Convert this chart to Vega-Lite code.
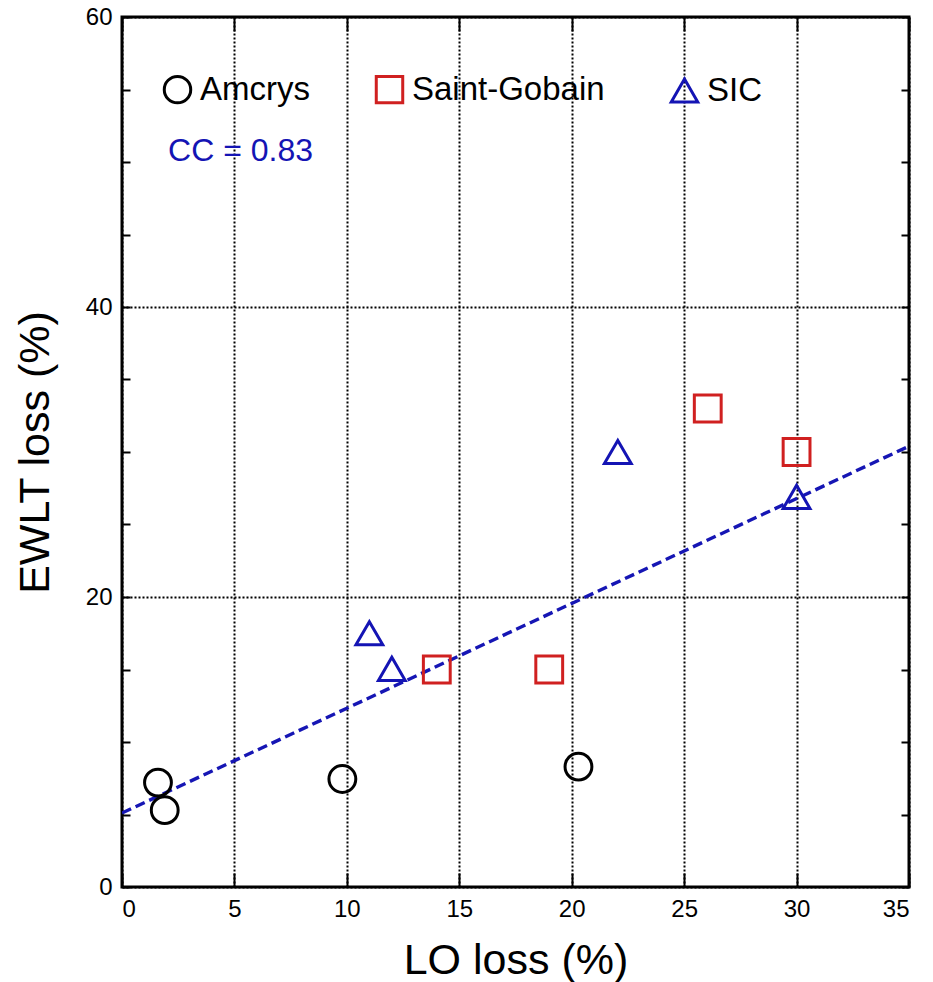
{
  "$schema": "https://vega.github.io/schema/vega-lite/v6.json",
  "width": 787,
  "height": 870,
  "autosize": {"type": "none"},
  "padding": {"left": 122, "top": 17, "right": 24, "bottom": 95},
  "background": "white",
  "config": {
    "font": "Liberation Sans",
    "view": {"stroke": "black", "strokeWidth": 3},
    "axis": {
      "domain": false,
      "labelFont": "Liberation Sans",
      "labelFontSize": 24,
      "labelColor": "black",
      "tickColor": "black",
      "tickWidth": 2,
      "titleFont": "Liberation Sans",
      "titleFontWeight": "normal",
      "titleColor": "black",
      "gridColor": "black",
      "gridDash": [2, 2],
      "gridWidth": 2,
      "gridOpacity": 1
    }
  },
  "datasets": {
    "points": [
      {"maker": "Amcrys", "lo": 1.6, "ewlt": 7.2},
      {"maker": "Amcrys", "lo": 1.9, "ewlt": 5.3},
      {"maker": "Amcrys", "lo": 9.8, "ewlt": 7.45},
      {"maker": "Amcrys", "lo": 20.3, "ewlt": 8.3},
      {"maker": "Saint-Gobain", "lo": 14, "ewlt": 15},
      {"maker": "Saint-Gobain", "lo": 19, "ewlt": 15},
      {"maker": "Saint-Gobain", "lo": 26.05, "ewlt": 33},
      {"maker": "Saint-Gobain", "lo": 30, "ewlt": 30},
      {"maker": "SIC", "lo": 11, "ewlt": 17.5},
      {"maker": "SIC", "lo": 12, "ewlt": 15.05},
      {"maker": "SIC", "lo": 22.05, "ewlt": 30},
      {"maker": "SIC", "lo": 30, "ewlt": 26.9}
    ],
    "fit": [
      {"lo": 0, "ewlt": 5.1},
      {"lo": 35, "ewlt": 30.4}
    ],
    "note": [
      {"lo": 2.05, "ewlt": 50.1, "label": "CC = 0.83"}
    ]
  },
  "layer": [
    {
      "data": {"name": "fit"},
      "mark": {"type": "line", "color": "#1616b4", "strokeWidth": 3.4, "strokeDash": [10, 5], "clip": true},
      "encoding": {
        "x": {
          "field": "lo", "type": "quantitative",
          "scale": {"domain": [0, 35], "nice": false, "zero": false},
          "axis": {
            "orient": "bottom",
            "values": [0, 5, 10, 15, 20, 25, 30, 35],
            "title": "LO loss (%)",
            "titleFontSize": 43,
            "tickSize": -14,
            "labelPadding": 24,
            "grid": true,
            "titleY": 86,
            "titleBaseline": "alphabetic"
          }
        },
        "y": {
          "field": "ewlt", "type": "quantitative",
          "scale": {"domain": [0, 60], "nice": false},
          "axis": {
            "orient": "left",
            "values": [0, 5, 10, 15, 20, 25, 30, 35, 40, 45, 50, 55, 60],
            "labelExpr": "datum.value % 20 === 0 ? datum.label : ''",
            "tickSize": -8,
            "labelPadding": 18,
            "grid": true,
            "gridOpacity": {"condition": {"test": "datum.value % 20 === 0", "value": 1}, "value": 0},
            "title": "EWLT loss (%)",
            "titleFontSize": 43,
            "titleAngle": -90,
            "titleX": -74,
            "titleY": 435,
            "titleAlign": "center",
            "titleBaseline": "alphabetic"
          }
        }
      }
    },
    {
      "data": {"name": "points"},
      "mark": {"type": "point", "filled": false, "strokeWidth": 3, "size": 720, "opacity": 1},
      "encoding": {
        "x": {
          "field": "lo", "type": "quantitative",
          "axis": {"orient": "top", "values": [0, 5, 10, 15, 20, 25, 30, 35], "labels": false, "tickSize": -14, "grid": false, "title": null}
        },
        "y": {
          "field": "ewlt", "type": "quantitative",
          "axis": {"orient": "right", "values": [0, 5, 10, 15, 20, 25, 30, 35, 40, 45, 50, 55, 60], "labels": false, "tickSize": -8, "grid": false, "title": null}
        },
        "shape": {
          "field": "maker", "type": "nominal",
          "scale": {"domain": ["Amcrys", "Saint-Gobain", "SIC"], "range": ["circle", "square", "triangle-up"]},
          "legend": {"orient": "none", "legendX": 39, "legendY": 56, "direction": "horizontal", "title": null, "labelFontSize": 33, "labelFont": "Liberation Sans", "labelColor": "black", "labelLimit": 500, "symbolSize": 700, "symbolStrokeWidth": 3, "labelOffset": 6, "columnPadding": 60}
        },
        "color": {
          "field": "maker", "type": "nominal",
          "scale": {"domain": ["Amcrys", "Saint-Gobain", "SIC"], "range": ["black", "#d02020", "#1414b4"]},
          "legend": {"orient": "none", "legendX": 39, "legendY": 56, "direction": "horizontal", "title": null, "labelFontSize": 33, "labelFont": "Liberation Sans", "labelColor": "black", "labelLimit": 500, "symbolSize": 700, "symbolStrokeWidth": 3, "labelOffset": 6, "columnPadding": 60}
        }
      }
    },
    {
      "data": {"name": "note"},
      "mark": {"type": "text", "align": "left", "baseline": "alphabetic", "fontSize": 32, "color": "#1414b4", "font": "Liberation Sans"},
      "encoding": {
        "x": {"field": "lo", "type": "quantitative", "axis": null},
        "y": {"field": "ewlt", "type": "quantitative", "axis": null},
        "text": {"field": "label"}
      }
    }
  ],
  "resolve": {"axis": {"x": "independent", "y": "independent"}}
}
